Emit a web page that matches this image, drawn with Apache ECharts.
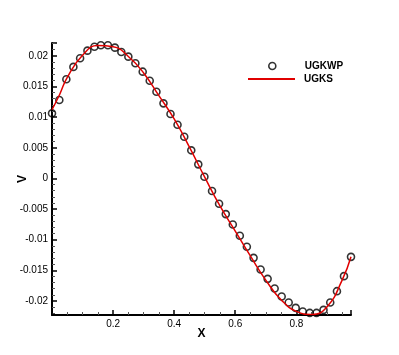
<!DOCTYPE html>
<html lang="en">
<head>
    <meta charset="UTF-8">
    <title>V profile</title>
    <style>
        html, body { margin: 0; padding: 0; background: #fff; }
        #main { width: 399px; height: 355px; }
    </style>
</head>
<body>
    <div id="main"></div>
    <script src="https://cdn.jsdelivr.net/npm/echarts@6/dist/echarts.min.js"></script>
    <script>
        // UGKWP samples (circles)
        const ugkwpX = [0.000, 0.024, 0.047, 0.070, 0.092, 0.116, 0.139, 0.160, 0.183, 0.206, 0.227,
            0.250, 0.273, 0.297, 0.320, 0.342, 0.365, 0.388, 0.411, 0.433, 0.456, 0.479,
            0.499, 0.524, 0.547, 0.569, 0.592, 0.615, 0.638, 0.660, 0.683, 0.706, 0.729,
            0.752, 0.775, 0.798, 0.821, 0.844, 0.866, 0.889, 0.911, 0.933, 0.956, 0.979];
        const ugkwpV = [0.01062, 0.0128, 0.01618, 0.0182, 0.0196, 0.02085, 0.0215, 0.02173, 0.02173, 0.02134, 0.02064,
            0.01987, 0.01879, 0.01742, 0.01595, 0.01415, 0.01225, 0.0105, 0.00876, 0.0068, 0.00458, 0.00229,
            0.00026, -0.00207, -0.00415, -0.00583, -0.00752, -0.00937, -0.01117, -0.01297, -0.01487, -0.0164, -0.01797,
            -0.01928, -0.02026, -0.02114, -0.02173, -0.02196, -0.02196, -0.02147, -0.02026, -0.01841, -0.01596, -0.01281];

        // UGKS reference (red line)
        const ugksX = [0, 0.025, 0.05, 0.1, 0.15, 0.2, 0.25, 0.3, 0.35, 0.4, 0.45, 0.5, 0.55,
            0.6, 0.65, 0.7, 0.75, 0.8, 0.85, 0.9, 0.95, 0.979];
        const ugksV = [0.0112, 0.0137, 0.0165, 0.0201, 0.0217, 0.0215, 0.0199, 0.0172, 0.0135, 0.0097, 0.0051, 0.0002, -0.0045,
            -0.0086, -0.0127, -0.0166, -0.0198, -0.0217, -0.0222, -0.0210, -0.0166, -0.0128];

        const xTicks = ['0.2', '0.4', '0.6', '0.8'];

        const zip = (xs, ys) => xs.map((x, i) => [x, ys[i]]);
        const font = 'Liberation Sans, Arial, sans-serif';
        const legendText = { fontFamily: font, fontSize: 10, fontWeight: 'bold', color: '#000' };

        var myChart = echarts.init(document.getElementById('main'));
        var option = {
            animation: false,
            grid: { left: 52, right: 48, top: 43, bottom: 40 },
            legend: [
                {
                    left: 263,
                    top: 56,
                    itemWidth: 7,
                    itemHeight: 7,
                    textStyle: Object.assign({ padding: [0, 0, 0, 24] }, legendText),
                    data: [{ name: 'UGKWP', icon: 'circle', itemStyle: { color: '#fff', borderColor: '#000', borderWidth: 1.6 } }]
                },
                {
                    left: 243,
                    top: 69,
                    itemWidth: 47,
                    itemHeight: 2,
                    textStyle: Object.assign({ padding: [0, 0, 0, 4] }, legendText),
                    data: [{ name: 'UGKS', icon: 'rect', itemStyle: { color: '#e00000', borderWidth: 0 } }]
                }
            ],
            xAxis: {
                type: 'value',
                min: 0,
                max: 0.979,
                interval: 0.2,
                name: 'X',
                nameLocation: 'middle',
                nameGap: 13,
                nameMoveOverlap: false,
                nameTextStyle: { fontFamily: font, fontSize: 12, fontWeight: 'bold', color: '#000' },
                axisLine: { onZero: false, lineStyle: { color: '#000', width: 2 } },
                axisTick: { inside: true, length: 5, lineStyle: { color: '#000', width: 1.5 } },
                minorTick: { show: true, splitNumber: 4, length: 3, lineStyle: { color: '#555' } },
                splitLine: { show: false },
                axisLabel: {
                    fontFamily: font, fontSize: 10, color: '#000', margin: 4,
                    showMaxLabel: false,
                    formatter: v => { const s = String(Math.round(v * 10) / 10); return xTicks.includes(s) ? s : ''; }
                }
            },
            yAxis: {
                type: 'value',
                min: -0.0223,
                max: 0.0221,
                splitNumber: 8,
                name: 'V',
                nameLocation: 'middle',
                nameGap: 23,
                nameMoveOverlap: false,
                nameRotate: 90,
                nameTextStyle: { fontFamily: font, fontSize: 12, fontWeight: 'bold', color: '#000' },
                axisLine: { show: true, onZero: false, lineStyle: { color: '#000', width: 2 } },
                axisTick: { show: true, inside: true, length: 5, lineStyle: { color: '#000', width: 1.5 } },
                minorTick: { show: true, splitNumber: 5, length: 3, lineStyle: { color: '#555' } },
                splitLine: { show: false },
                axisLabel: {
                    fontFamily: font, fontSize: 10, color: '#000', margin: 4,
                    showMinLabel: false, showMaxLabel: false
                }
            },
            series: [
                {
                    name: 'UGKWP',
                    type: 'scatter',
                    symbol: 'circle',
                    symbolSize: 7,
                    itemStyle: { color: 'rgba(0,0,0,0)', borderColor: '#000', borderWidth: 1.6 },
                    data: zip(ugkwpX, ugkwpV),
                    z: 2
                },
                {
                    name: 'UGKS',
                    type: 'line',
                    smooth: true,
                    showSymbol: false,
                    symbol: 'none',
                    lineStyle: { color: '#e00000', width: 1.5 },
                    itemStyle: { color: '#e00000' },
                    data: zip(ugksX, ugksV),
                    z: 3
                }
            ]
        };
        option && myChart.setOption(option);
    </script>
</body>
</html>
